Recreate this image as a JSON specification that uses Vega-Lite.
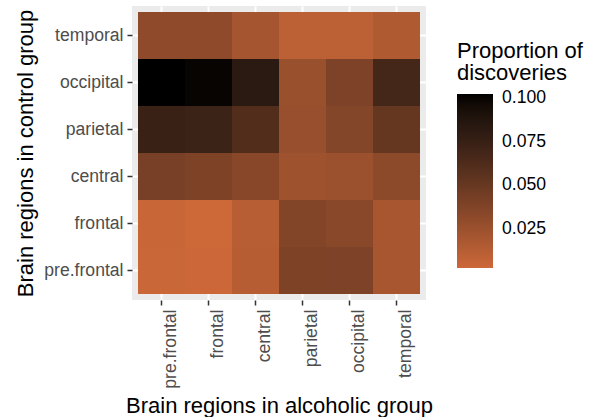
{
  "$schema": "https://vega.github.io/schema/vega-lite/v6.json",
  "autosize": "none",
  "width": 294,
  "height": 294,
  "padding": {"left": 132, "top": 6, "right": 174, "bottom": 117},
  "background": "white",
  "config": {
    "font": "Liberation Sans",
    "view": {"fill": "#EBEBEB", "stroke": null}
  },
  "data": {
    "values": [
      {"control": "temporal", "alcoholic": "pre.frontal", "p": 0.0311},
      {"control": "temporal", "alcoholic": "frontal", "p": 0.0311},
      {"control": "temporal", "alcoholic": "central", "p": 0.0206},
      {"control": "temporal", "alcoholic": "parietal", "p": 0.0099},
      {"control": "temporal", "alcoholic": "occipital", "p": 0.0099},
      {"control": "temporal", "alcoholic": "temporal", "p": 0.0157},
      {"control": "occipital", "alcoholic": "pre.frontal", "p": 0.1023},
      {"control": "occipital", "alcoholic": "frontal", "p": 0.1001},
      {"control": "occipital", "alcoholic": "central", "p": 0.0823},
      {"control": "occipital", "alcoholic": "parietal", "p": 0.0260},
      {"control": "occipital", "alcoholic": "occipital", "p": 0.0393},
      {"control": "occipital", "alcoholic": "temporal", "p": 0.0677},
      {"control": "parietal", "alcoholic": "pre.frontal", "p": 0.0742},
      {"control": "parietal", "alcoholic": "frontal", "p": 0.0724},
      {"control": "parietal", "alcoholic": "central", "p": 0.0611},
      {"control": "parietal", "alcoholic": "parietal", "p": 0.0268},
      {"control": "parietal", "alcoholic": "occipital", "p": 0.0358},
      {"control": "parietal", "alcoholic": "temporal", "p": 0.0512},
      {"control": "central", "alcoholic": "pre.frontal", "p": 0.0416},
      {"control": "central", "alcoholic": "frontal", "p": 0.0389},
      {"control": "central", "alcoholic": "central", "p": 0.0342},
      {"control": "central", "alcoholic": "parietal", "p": 0.0239},
      {"control": "central", "alcoholic": "occipital", "p": 0.0246},
      {"control": "central", "alcoholic": "temporal", "p": 0.0316},
      {"control": "frontal", "alcoholic": "pre.frontal", "p": 0.0048},
      {"control": "frontal", "alcoholic": "frontal", "p": 0.0025},
      {"control": "frontal", "alcoholic": "central", "p": 0.0123},
      {"control": "frontal", "alcoholic": "parietal", "p": 0.0365},
      {"control": "frontal", "alcoholic": "occipital", "p": 0.0338},
      {"control": "frontal", "alcoholic": "temporal", "p": 0.0198},
      {"control": "pre.frontal", "alcoholic": "pre.frontal", "p": 0.0038},
      {"control": "pre.frontal", "alcoholic": "frontal", "p": 0.0033},
      {"control": "pre.frontal", "alcoholic": "central", "p": 0.0129},
      {"control": "pre.frontal", "alcoholic": "parietal", "p": 0.0391},
      {"control": "pre.frontal", "alcoholic": "occipital", "p": 0.0393},
      {"control": "pre.frontal", "alcoholic": "temporal", "p": 0.0198}
    ]
  },
  "mark": {"type": "rect", "stroke": null},
  "encoding": {
    "x": {
      "field": "alcoholic",
      "type": "nominal",
      "sort": ["pre.frontal", "frontal", "central", "parietal", "occipital", "temporal"],
      "scale": {"paddingInner": 0, "paddingOuter": 0.1, "round": true},
      "axis": {
        "zindex": 0,
        "tickBand": "center",
        "bandPosition": 0.5,
        "title": "Brain regions in alcoholic group",
        "titleFont": "Liberation Sans",
        "titleFontSize": 22,
        "titleFontWeight": "normal",
        "titleColor": "#000000",
        "titleBaseline": "alphabetic",
        "titleAnchor": "middle",
        "titleX": 147,
        "titleY": 112,
        "labelAngle": 270,
        "labelBaseline": "top",
        "labelFontSize": 17.6,
        "labelColor": "#4D4D4D",
        "labelPadding": 4,
        "tickSize": 5,
        "tickColor": "#333333",
        "tickWidth": 1.5,
        "domain": false,
        "grid": true,
        "gridColor": "#FFFFFF",
        "gridWidth": 2
      }
    },
    "y": {
      "field": "control",
      "type": "nominal",
      "sort": ["temporal", "occipital", "parietal", "central", "frontal", "pre.frontal"],
      "scale": {"paddingInner": 0, "paddingOuter": 0.1, "round": true},
      "axis": {
        "zindex": 0,
        "tickBand": "center",
        "bandPosition": 0.5,
        "title": "Brain regions in control group",
        "titleFont": "Liberation Sans",
        "titleFontSize": 22,
        "titleFontWeight": "normal",
        "titleColor": "#000000",
        "titleBaseline": "alphabetic",
        "titleAngle": 270,
        "titleAnchor": "middle",
        "titleX": -100,
        "titleY": 147,
        "labelFontSize": 17.6,
        "labelColor": "#4D4D4D",
        "labelPadding": 4,
        "tickSize": 5,
        "tickColor": "#333333",
        "tickWidth": 1.5,
        "domain": false,
        "grid": true,
        "gridColor": "#FFFFFF",
        "gridWidth": 2
      }
    },
    "color": {
      "field": "p",
      "type": "quantitative",
      "scale": {"range": ["#CD6839", "#000000"], "interpolate": "lab", "zero": false, "nice": false},
      "legend": {
        "title": ["Proportion of", "discoveries"],
        "titleFontSize": 22,
        "titleFontWeight": "normal",
        "titleColor": "#000000",
        "titleLineHeight": 22,
        "titlePadding": 9,
        "orient": "none",
        "legendX": 325,
        "legendY": 35,
        "direction": "vertical",
        "gradientLength": 174,
        "gradientThickness": 36,
        "gradientStrokeWidth": 0,
        "values": [0.025, 0.05, 0.075, 0.1],
        "format": ".3f",
        "labelFontSize": 17.6,
        "labelColor": "#000000",
        "labelOffset": 9
      }
    }
  }
}
